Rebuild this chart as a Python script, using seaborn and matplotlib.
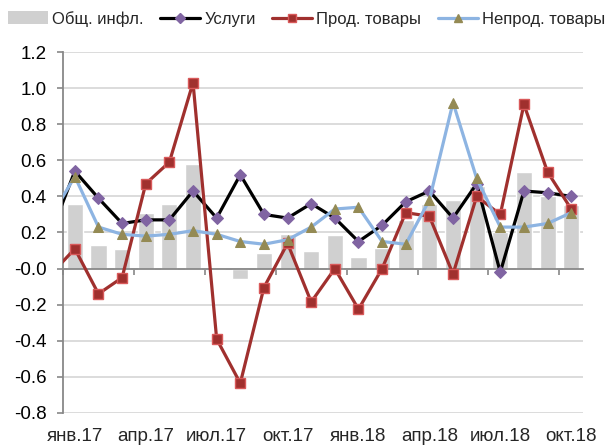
import numpy as np
import pandas as pd
import matplotlib
matplotlib.use("Agg")
import matplotlib.pyplot as plt
import seaborn as sns
from matplotlib.patches import Patch
from matplotlib.lines import Line2D

# months (first one, дек.16, only peeks in at the left edge)
months = ["дек.16",
          "янв.17", "фев.17", "мар.17", "апр.17", "май.17", "июн.17",
          "июл.17", "авг.17", "сен.17", "окт.17", "ноя.17", "дек.17",
          "янв.18", "фев.18", "мар.18", "апр.18", "май.18", "июн.18",
          "июл.18", "авг.18", "сен.18", "окт.18"]

total = [None,
         0.36, 0.13, 0.11, 0.31, 0.36, 0.58,
         -0.01, -0.055, 0.085, 0.19, 0.10, 0.185,
         0.065, 0.115, 0.27, 0.36, 0.38, 0.455,
         0.20, 0.535, 0.40, 0.35]
services = [0.20,
            0.54, 0.39, 0.25, 0.27, 0.27, 0.43,
            0.28, 0.52, 0.30, 0.28, 0.36, 0.28,
            0.15, 0.24, 0.37, 0.43, 0.28, 0.47,
            -0.02, 0.43, 0.42, 0.40]
food = [-0.03,
        0.11, -0.14, -0.05, 0.47, 0.59, 1.03,
        -0.39, -0.635, -0.105, 0.14, -0.185, 0.0,
        -0.225, 0.0, 0.31, 0.29, -0.03, 0.40,
        0.30, 0.91, 0.535, 0.33]
nonfood = [0.29,
           0.51, 0.23, 0.19, 0.18, 0.19, 0.21,
           0.19, 0.15, 0.135, 0.16, 0.23, 0.33,
           0.34, 0.15, 0.135, 0.38, 0.92, 0.50,
           0.23, 0.23, 0.25, 0.31]

labels = ["Общ. инфл.", "Услуги", "Прод. товары", "Непрод. товары"]
tick_months = ["янв.17", "апр.17", "июл.17", "окт.17",
               "янв.18", "апр.18", "июл.18", "окт.18"]

df = pd.DataFrame({"month": months, "total": total, "services": services,
                   "food": food, "nonfood": nonfood})
df["pos"] = np.arange(len(df)) - 1

sns.set_style("white")
plt.rcParams["font.family"] = ["Liberation Sans", "DejaVu Sans"]

fig = plt.figure(figsize=(6.13, 4.46), dpi=100)
ax = fig.add_axes([0.1028, 0.074, 0.8483, 0.8094])

bars = df.dropna(subset=["total"])
sns.barplot(data=bars, x="pos", y="total", native_scale=True, width=0.68,
            color="#d0d0d0", saturation=1, ax=ax, zorder=2)

sns.lineplot(data=df, x="pos", y="services", color="black", lw=2.3,
             marker="D", markersize=6, markerfacecolor="#8064a2",
             markeredgecolor="#8064a2", ax=ax, zorder=3)
sns.lineplot(data=df, x="pos", y="food", color="#a0302e", lw=2.3,
             marker="s", markersize=6.5, markerfacecolor="#a0302e",
             markeredgecolor="#d9595a", markeredgewidth=1, ax=ax, zorder=4)
sns.lineplot(data=df, x="pos", y="nonfood", color="#8db4e2", lw=2.3,
             marker="^", markersize=7.5, markerfacecolor="#948a54",
             markeredgecolor="#948a54", ax=ax, zorder=5)

ax.set_xlim(-0.5, 21.5)
ax.set_ylim(-0.8, 1.2)
ax.set_yticks(np.arange(-0.8, 1.21, 0.2))
ax.yaxis.set_major_formatter(matplotlib.ticker.FormatStrFormatter("%.1f"))
ax.yaxis.grid(True, color="#d9d9d9", lw=1.3, zorder=0)
ax.set_axisbelow(True)
ax.tick_params(axis="y", left=True, length=4, color="#888888", width=1.2,
               labelsize=13.5, pad=8, labelcolor="black")

for s in ["top", "right"]:
    ax.spines[s].set_visible(False)
ax.spines["left"].set_color("#888888")
ax.spines["left"].set_linewidth(1.3)

# category axis drawn at zero, labels at the bottom
ax.spines["bottom"].set_position(("data", 0))
ax.spines["bottom"].set_color("#888888")
ax.spines["bottom"].set_linewidth(1.3)
ax.spines["bottom"].set_zorder(2.5)
ax.set_xticks(np.arange(-0.5, 21, 3))
ax.set_xticklabels([])
ax.tick_params(axis="x", bottom=True, length=4, color="#888888", width=1.2)
ax.set_xlabel("")
ax.set_ylabel("")

sec = ax.secondary_xaxis(0)
sec.set_xticks(np.arange(0, 22, 3))
sec.set_xticklabels(tick_months)
sec.tick_params(length=0, labelsize=13.5, pad=10.5)
sec.spines["bottom"].set_visible(False)

handles = [
    Patch(facecolor="#d0d0d0", edgecolor="none"),
    Line2D([], [], color="black", lw=2.3, marker="D", markersize=5,
           markerfacecolor="#8064a2", markeredgecolor="#8064a2"),
    Line2D([], [], color="#a0302e", lw=2.3, marker="s", markersize=5.5,
           markerfacecolor="#a0302e", markeredgecolor="#d9595a"),
    Line2D([], [], color="#8db4e2", lw=2.3, marker="^", markersize=6,
           markerfacecolor="#948a54", markeredgecolor="#948a54"),
]
fig.legend(handles, labels, loc="center", bbox_to_anchor=(0.5, 0.958),
           ncol=4, frameon=False, fontsize=12, handlelength=2.4,
           handleheight=0.8, handletextpad=0.25, columnspacing=1.0)

fig.savefig("out.png", dpi=100)
